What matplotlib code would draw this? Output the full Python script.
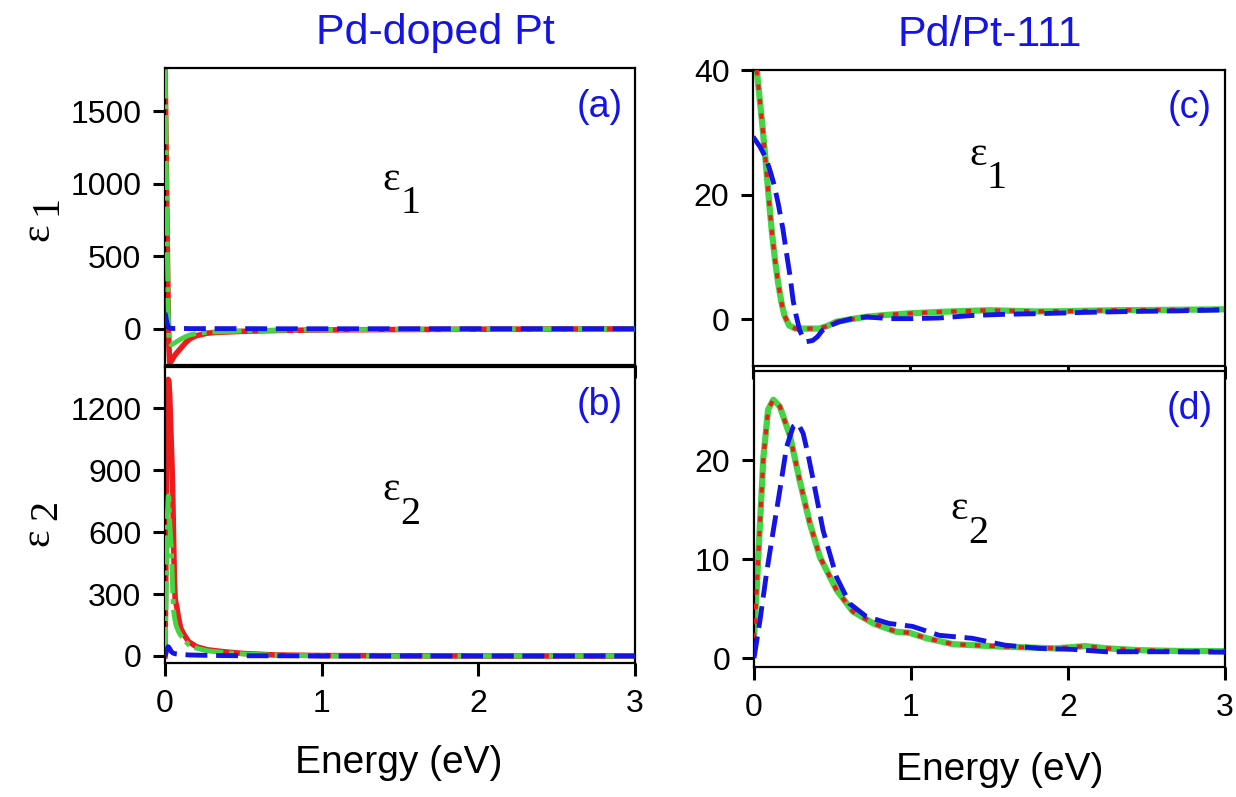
import numpy as np
import matplotlib.pyplot as plt

plt.rcParams['font.family'] = ['Liberation Sans', 'DejaVu Sans']

# ---- Pd-doped Pt ----
e_a = [0.0, 0.004, 0.008, 0.012, 0.016, 0.02, 0.025, 0.03, 0.04, 0.05, 0.065, 0.08,
       0.1, 0.13, 0.16, 0.2, 0.27, 0.35, 0.48, 0.7, 1.0, 1.5, 2.0, 2.5, 3.0]
dop_eps1_red = [1800, 1500, 1150, 800, 450, 150, -120, -234, -225, -205, -180, -160,
                -135, -98, -68, -48, -30, -24, -18, -12, -8, -5, -3, -2, -1]
dop_eps1_green = [1790, 1500, 1150, 800, 450, 150, -50, -100, -110, -105, -95, -85,
                  -72, -55, -42, -33, -24, -20, -16, -11, -7, -4, -3, -2, -1]
dop_eps1_blue = [110, 90, 65, 45, 28, 15, 8, 5, 3, 2, 2, 2,
                 2, 2, 1, 1, 1, 1, 1, 0, 0, 0, 0, 0, 0]

e_b = [0.0, 0.005, 0.01, 0.015, 0.02, 0.025, 0.03, 0.035, 0.04, 0.045, 0.05, 0.055,
       0.06, 0.065, 0.07, 0.075, 0.085, 0.1, 0.12, 0.15, 0.2, 0.27, 0.37, 0.5, 0.7,
       1.0, 1.5, 2.0, 2.5, 3.0]
dop_eps2_red = [0, 400, 950, 1250, 1340, 1330, 1260, 1150, 1030, 920, 760, 560,
                370, 275, 255, 240, 190, 135, 105, 70, 45, 30, 21, 12, 5,
                2, 1, 0, 0, 0]
dop_eps2_green = [0, 200, 450, 680, 775, 770, 650, 590, 530, 420, 300, 220,
                  190, 170, 150, 140, 120, 100, 80, 55, 38, 25, 17, 10, 4,
                  1, 0, 0, 0, 0]
dop_eps2_blue = [0, 10, 25, 38, 45, 42, 35, 28, 22, 18, 15, 13,
                 12, 11, 10, 10, 9, 8, 7, 5, 4, 3, 2, 1, 1,
                 0, 0, 0, 0, 0]

# ---- Pd/Pt-111 ----
e_c = [0.0, 0.02, 0.04, 0.06, 0.08, 0.1, 0.12, 0.14, 0.16, 0.18, 0.2, 0.23, 0.27,
       0.35, 0.42, 0.47, 0.53, 0.62, 0.72, 0.85, 1.0, 1.2, 1.5, 1.8, 2.0, 2.3, 2.6, 3.0]
slab_eps1_red = [47, 41, 36, 31, 25.5, 19.5, 14, 9.5, 5.8, 2.8, 0.6, -1.0, -1.5,
                 -1.5, -1.5, -1.1, -0.4, 0.0, 0.4, 0.7, 0.95, 1.2, 1.45, 1.25, 1.3, 1.45, 1.5, 1.6]
slab_eps1_green = slab_eps1_red
e_c_blue = [0.0, 0.044, 0.08, 0.108, 0.135, 0.16, 0.19, 0.213, 0.235, 0.255, 0.275,
            0.297, 0.32, 0.34, 0.38, 0.41, 0.44, 0.5, 0.55, 0.63, 0.72, 0.87, 1.01,
            1.18, 1.39, 1.6, 1.82, 2.1, 2.4, 2.7, 3.0]
slab_eps1_blue = [29.3, 27.7, 26, 23.9, 21.5, 18.6, 14.5, 10.6, 7, 3, 0.5,
                  -1.8, -3.0, -3.6, -3.4, -2.8, -1.8, -0.9, -0.4, 0.1, 0.37, 0.1, 0.1,
                  0.2, 0.6, 0.8, 0.9, 1.1, 1.25, 1.35, 1.5]

e_d = [0.0, 0.017, 0.038, 0.06, 0.09, 0.123, 0.165, 0.23, 0.29, 0.356, 0.42, 0.525,
       0.63, 0.76, 0.906, 0.99, 1.1, 1.27, 1.6, 1.92, 2.11, 2.25, 2.45, 2.7, 3.0]
slab_eps2_red = [2.0, 6.9, 13.6, 20.3, 25.1, 26.1, 25.4, 22.4, 18, 13.6, 10.2, 6.9,
                 4.7, 3.5, 2.66, 2.56, 2.0, 1.4, 1.15, 0.98, 1.21, 0.98, 0.8, 0.72, 0.7]
slab_eps2_green = slab_eps2_red
e_d_blue = [0.0, 0.038, 0.08, 0.123, 0.165, 0.207, 0.25, 0.28, 0.313, 0.345, 0.377,
            0.44, 0.525, 0.61, 0.715, 0.86, 1.01, 1.18, 1.39, 1.6, 1.82, 2.03, 2.24,
            2.6, 3.0]
slab_eps2_blue = [0.0, 3.8, 8.6, 12.9, 17, 21.3, 23.4, 23.7, 22.7, 20.5, 18,
                  12.9, 8.2, 5.5, 4.2, 3.5, 3.2, 2.3, 2.0, 1.3, 0.98, 0.88, 0.64,
                  0.64, 0.6]

RED = '#ec1c1c'
GREEN = '#44d444'
BLUE = '#1414e6'

fig = plt.figure(figsize=(12.36, 7.97), dpi=100)
W, H = 1236.0, 797.0

def make_ax(x0, x1, y0, y1):
    # pixel box -> figure fraction
    return fig.add_axes([x0 / W, 1 - y1 / H, (x1 - x0) / W, (y1 - y0) / H])

ax_a = make_ax(165, 635, 68, 365)
ax_b = make_ax(165, 635, 367, 663)
ax_c = make_ax(753, 1225, 70, 366)
ax_d = make_ax(754, 1225, 371, 667)

for ax in (ax_a, ax_b, ax_c, ax_d):
    ax.set_xlim(0, 3)
    ax.set_xticks([0, 1, 2, 3])
    for s in ax.spines.values():
        s.set_linewidth(1.6)
    ax.tick_params(direction='out', length=9, width=2.2, labelsize=23)
    ax.tick_params(axis='x', pad=10)
    ax.tick_params(axis='y', pad=8)

ax_a.tick_params(axis='x', labelbottom=False)
ax_c.tick_params(axis='x', labelbottom=False)

ax_a.set_ylim(-250, 1800)
ax_a.set_yticks([0, 500, 1000, 1500])
ax_b.set_ylim(-34, 1400)
ax_b.set_yticks([0, 300, 600, 900, 1200])
ax_c.set_ylim(-7.5, 40)
ax_c.set_yticks([0, 20, 40])
ax_d.set_ylim(-0.9, 29)
ax_d.set_yticks([0, 10, 20])

DASH = (0, (4.5, 1.8))
DASHDOT = (0, (6, 1.2, 1, 1.2))
DOTS = (0, (1.3, 2.2))

# left column: red solid, green dash-dot, blue dashed
ax_a.plot(e_a, dop_eps1_red, color=RED, lw=4, zorder=2)
ax_a.plot(e_a, dop_eps1_green, color=GREEN, lw=3.5, ls=DASHDOT, zorder=3)
ax_a.plot(e_a, dop_eps1_blue, color=BLUE, lw=3.5, ls=DASH, zorder=4)

ax_b.plot(e_b, dop_eps2_red, color=RED, lw=4, zorder=2)
ax_b.plot(e_b, dop_eps2_green, color=GREEN, lw=3.5, ls=DASHDOT, zorder=3)
ax_b.plot(e_b, dop_eps2_blue, color=BLUE, lw=3.5, ls=DASH, zorder=4)

# right column: green solid with red dots on top, blue dashed
ax_c.plot(e_c, slab_eps1_green, color=GREEN, lw=4.5, zorder=2)
ax_c.plot(e_c, slab_eps1_red, color=RED, lw=3, ls=DOTS, zorder=3)
ax_c.plot(e_c_blue, slab_eps1_blue, color=BLUE, lw=3.5, ls=DASH, zorder=4)

ax_d.plot(e_d, slab_eps2_green, color=GREEN, lw=4.5, zorder=2)
ax_d.plot(e_d, slab_eps2_red, color=RED, lw=3, ls=DOTS, zorder=3)
ax_d.plot(e_d_blue, slab_eps2_blue, color=BLUE, lw=3.5, ls=DASH, zorder=4)

# panel tags
for ax, tag in ((ax_a, '(a)'), (ax_b, '(b)'), (ax_c, '(c)'), (ax_d, '(d)')):
    ax.text(0.925, 0.87, tag, transform=ax.transAxes, color=BLUE, fontsize=27,
            ha='center', va='center')

def eps_text(ax, x, y, sub):
    # epsilon with a full-size, lowered index
    ax.text(x, y, '\u03b5', transform=ax.transAxes, fontsize=30,
            family='Liberation Serif', ha='right', va='baseline')
    ax.annotate(sub, (x, y), xycoords='axes fraction', xytext=(0, -17),
                textcoords='offset points', fontsize=29,
                family='Liberation Serif', ha='left', va='baseline')

eps_text(ax_a, 0.5, 0.59, '1')
eps_text(ax_b, 0.5, 0.55, '2')
eps_text(ax_c, 0.495, 0.68, '1')
eps_text(ax_d, 0.455, 0.5, '2')

def eps_ylabel(xpix, ypix, sub):
    # rotated epsilon label, index sits above and slightly right
    fig.text(xpix / W, 1 - ypix / H, '\u03b5', fontsize=30, family='Liberation Serif',
             rotation=90, ha='center', va='center')
    fig.text((xpix + 9) / W, 1 - (ypix - 27) / H, sub, fontsize=29,
             family='Liberation Serif', rotation=90, ha='center', va='center')

eps_ylabel(38, 232, '1')
eps_ylabel(38, 537, '2')

fig.text(435 / W, 1 - 33 / H, 'Pd-doped Pt', color=BLUE, fontsize=31, ha='center', va='center')
fig.text(990 / W, 1 - 35 / H, 'Pd/Pt-111', color=BLUE, fontsize=31, ha='center', va='center')
fig.text(399 / W, 1 - 763 / H, 'Energy (eV)', fontsize=28, ha='center', va='center')
fig.text(1000 / W, 1 - 770 / H, 'Energy (eV)', fontsize=28, ha='center', va='center')

plt.savefig('out.png', dpi=100)
